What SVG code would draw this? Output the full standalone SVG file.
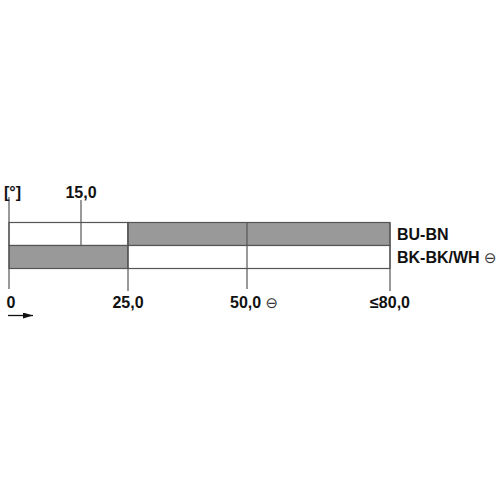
<svg xmlns="http://www.w3.org/2000/svg" width="500" height="500" viewBox="0 0 500 500">
<style>
.t{font-family:"Liberation Sans",Arial,sans-serif;font-size:16px;font-weight:bold;fill:#111}
.s{font-family:"DejaVu Sans",sans-serif;font-size:15px;font-weight:normal;fill:#333}
.g{fill:#999;stroke:#555;stroke-width:1.2}
.w{fill:#fff;stroke:#555;stroke-width:1.2}
.l{stroke:#555;stroke-width:1.2;fill:none}
</style>
<defs>
<marker id="ah" markerWidth="10" markerHeight="6" refX="10" refY="3" orient="auto" markerUnits="userSpaceOnUse">
<path d="M0,0 L10,3 L0,6 Z" fill="#111"/>
</marker>
</defs>
<rect width="500" height="500" fill="#fff"/>
<g id="row-top">
<rect class="w" x="9" y="222.5" width="119" height="23"/>
<rect class="g" x="128" y="222.5" width="262" height="23"/>
</g>
<g id="row-bottom">
<rect class="g" x="9" y="245.5" width="119" height="23"/>
<rect class="w" x="128" y="245.5" width="262" height="23"/>
</g>
<g id="connectors">
<line class="l" x1="9" y1="197" x2="9" y2="289"/>
<line class="l" x1="81" y1="200" x2="81" y2="245.5"/>
<line class="l" x1="128" y1="222.5" x2="128" y2="291"/>
<line class="l" x1="247" y1="222.5" x2="247" y2="289"/>
<line class="l" x1="390" y1="222.5" x2="390" y2="291"/>
<line x1="8" y1="315.5" x2="33" y2="315.5" stroke="#111" stroke-width="1.3" marker-end="url(#ah)"/>
</g>
<g id="labels">
<text class="t" x="4" y="198">[°]</text>
<text class="t" x="81" y="198" text-anchor="middle">15,0</text>
<text class="t" x="397" y="240">BU-BN</text>
<text class="t" x="397" y="263">BK-BK/WH <tspan class="s">⊖</tspan></text>
<text class="t" x="11" y="308" text-anchor="middle">0</text>
<text class="t" x="128" y="308" text-anchor="middle">25,0</text>
<text class="t" x="230" y="308">50,0 <tspan class="s">⊖</tspan></text>
<text class="t" x="410" y="308" text-anchor="end">≤80,0</text>
</g>
</svg>
